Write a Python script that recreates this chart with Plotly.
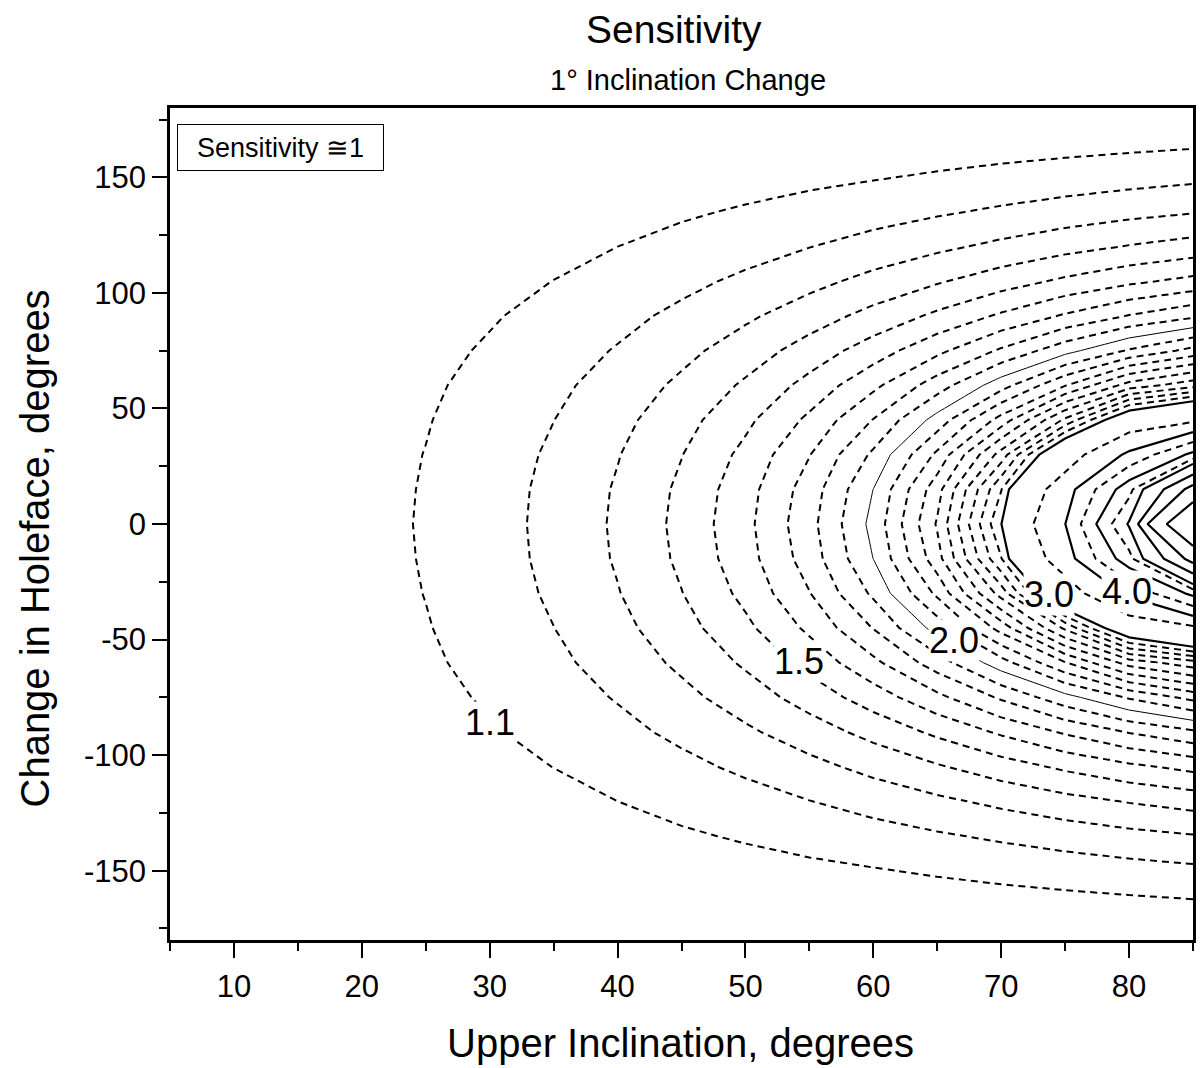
import plotly.graph_objects as go

# ---- data ----
inclination = [5, 10, 15, 20, 25, 30, 35, 40, 45, 50, 55, 60, 65, 70, 75, 80, 85]
holeface_half = [0, 15, 30, 45, 60, 75, 90, 105, 120, 135, 150, 165, 180]

s_h000 = [1.005, 1.017, 1.038, 1.068, 1.108, 1.161, 1.228, 1.315, 1.427, 1.572, 1.766, 2.031, 2.411, 2.996, 3.994, 6.059, 12.75]
s_h015 = [1.005, 1.017, 1.037, 1.067, 1.106, 1.158, 1.225, 1.310, 1.419, 1.560, 1.747, 2.001, 2.360, 2.894, 3.758, 5.318, 8.41]
s_h030 = [1.004, 1.016, 1.036, 1.064, 1.102, 1.151, 1.215, 1.295, 1.397, 1.527, 1.696, 1.919, 2.222, 2.642, 3.243, 4.095, 5.129]
s_h045 = [1.004, 1.015, 1.033, 1.060, 1.095, 1.141, 1.199, 1.271, 1.362, 1.477, 1.621, 1.804, 2.040, 2.341, 2.721, 3.169, 3.400]
s_h060 = [1.004, 1.014, 1.030, 1.054, 1.086, 1.127, 1.178, 1.241, 1.320, 1.415, 1.533, 1.676, 1.851, 2.058, 2.294, 2.542, 2.660]
s_h075 = [1.003, 1.012, 1.026, 1.047, 1.075, 1.110, 1.154, 1.207, 1.272, 1.349, 1.442, 1.550, 1.675, 1.815, 1.965, 2.112, 2.233]
s_h090 = [1.003, 1.010, 1.022, 1.040, 1.063, 1.092, 1.128, 1.171, 1.223, 1.283, 1.353, 1.432, 1.521, 1.616, 1.713, 1.806, 1.882]
s_h105 = [1.002, 1.008, 1.018, 1.032, 1.050, 1.073, 1.101, 1.135, 1.174, 1.220, 1.271, 1.330, 1.390, 1.454, 1.519, 1.579, 1.629]
s_h120 = [1.002, 1.006, 1.013, 1.024, 1.037, 1.056, 1.076, 1.100, 1.129, 1.160, 1.198, 1.238, 1.280, 1.323, 1.366, 1.406, 1.440]
s_h135 = [1.001, 1.004, 1.009, 1.016, 1.025, 1.037, 1.051, 1.068, 1.088, 1.110, 1.134, 1.160, 1.188, 1.216, 1.244, 1.271, 1.294]
s_h150 = [1.001, 1.002, 1.005, 1.009, 1.014, 1.021, 1.030, 1.040, 1.051, 1.064, 1.079, 1.094, 1.111, 1.128, 1.145, 1.162, 1.178]
s_h165 = [1.000, 1.001, 1.002, 1.003, 1.006, 1.008, 1.012, 1.016, 1.021, 1.027, 1.033, 1.041, 1.048, 1.057, 1.065, 1.074, 1.083]
s_h180 = [1.000, 1.000, 1.000, 1.000, 1.000, 1.000, 1.000, 1.000, 1.000, 1.000, 1.000, 1.000, 1.000, 1.000, 1.000, 1.000, 1.000]

dashed_levels = [1.1, 1.2, 1.3, 1.4, 1.5, 1.6, 1.7, 1.8, 1.9,
                 2.1, 2.2, 2.3, 2.4, 2.5, 2.6, 2.7, 2.8, 2.9,
                 3.5, 4.5, 5.5]
thin_levels = [2.0]
solid_levels = [3.0, 4.0, 5.0, 6.0, 7.0, 8.0, 10.0]

label_texts = ["1.1", "1.5", "2.0", "3.0", "4.0"]

x_ticks = [10, 20, 30, 40, 50, 60, 70, 80]
x_minor = [5, 15, 25, 35, 45, 55, 65, 75, 85]
y_ticks = [-150, -100, -50, 0, 50, 100, 150]
y_ticklabels = ["-150", "-100", "-50", "0", "50", "100", "150"]
y_minor = [-175, -125, -75, -25, 25, 75, 125, 175]

# ---- build the (symmetric) surface ----
rows_half = [s_h000, s_h015, s_h030, s_h045, s_h060, s_h075, s_h090,
             s_h105, s_h120, s_h135, s_h150, s_h165, s_h180]
holeface = [-h for h in reversed(holeface_half[1:])] + holeface_half
z = [list(r) for r in reversed(rows_half[1:])] + [list(r) for r in rows_half]

FONT = "Liberation Sans, Arial, sans-serif"

fig = go.Figure()


def add_level(level, width, dash):
    fig.add_trace(go.Contour(
        x=inclination, y=holeface, z=z,
        autocontour=False,
        contours=dict(start=level, end=level, size=1, coloring="none", showlabels=False),
        line=dict(color="black", width=width, dash=dash, smoothing=0),
        showscale=False, hoverinfo="skip", showlegend=False,
    ))


for lv in dashed_levels:
    add_level(lv, 2.0, "7px,5px")
for lv in thin_levels:
    add_level(lv, 1.0, "solid")
for lv in solid_levels:
    add_level(lv, 2.2, "solid")

# contour labels (placed along the lower branch as in the reference)
label_pos = [(30.03, -85.7), (54.2, -59.7), (66.3, -50.2), (73.77, -30.3), (79.85, -29.4)]
for txt, (lx, ly) in zip(label_texts, label_pos):
    fig.add_annotation(x=lx, y=ly, xref="x", yref="y", text=txt, showarrow=False,
                       font=dict(family=FONT, size=36, color="black"),
                       bgcolor="white", borderpad=0, xanchor="center", yanchor="middle")

# legend-like box
fig.add_annotation(x=0.1082, y=0.9531, xref="paper", yref="paper",
                   text="Sensitivity \u22451", showarrow=False,
                   font=dict(family=FONT, size=27, color="black"),
                   bgcolor="white", bordercolor="black", borderwidth=1, borderpad=0,
                   width=205, height=45, xanchor="center", yanchor="middle")

# titles
fig.add_annotation(x=0.4922, y=1.0938, xref="paper", yref="paper", text="Sensitivity",
                   showarrow=False, font=dict(family=FONT, size=39, color="black"),
                   xanchor="center", yanchor="middle")
fig.add_annotation(x=0.5068, y=1.0337, xref="paper", yref="paper", text="1\u00b0 Inclination Change",
                   showarrow=False, font=dict(family=FONT, size=29, color="black"),
                   xanchor="center", yanchor="middle")
fig.add_annotation(x=0.4995, y=-0.1238, xref="paper", yref="paper", text="Upper Inclination, degrees",
                   showarrow=False, font=dict(family=FONT, size=40, color="black"),
                   xanchor="center", yanchor="middle")
fig.add_annotation(x=-0.1316, y=0.471, xref="paper", yref="paper", text="Change in Holeface, degrees",
                   showarrow=False, textangle=-90, font=dict(family=FONT, size=40, color="black"),
                   xanchor="center", yanchor="middle")

axis_common = dict(showgrid=False, zeroline=False, ticks="outside", ticklen=15, tickwidth=2,
                   tickcolor="black", linecolor="black", linewidth=2.5, mirror=True,
                   tickfont=dict(family=FONT, size=31, color="black"))

fig.update_layout(
    width=1200, height=1068,
    margin=dict(l=170, r=4, t=108, b=128),
    paper_bgcolor="white", plot_bgcolor="white",
    showlegend=False,
    xaxis=dict(range=[5, 85], tickmode="array", tickvals=x_ticks, ticklabelstandoff=2,
               minor=dict(tickmode="array", tickvals=x_minor, ticks="outside", ticklen=8,
                          tickwidth=2, tickcolor="black"),
               **axis_common),
    yaxis=dict(range=[-180, 180], tickmode="array", tickvals=y_ticks, ticktext=y_ticklabels,
               ticklabelstandoff=0,
               minor=dict(tickmode="array", tickvals=y_minor, ticks="outside", ticklen=8,
                          tickwidth=2, tickcolor="black"),
               **axis_common),
)

fig.write_html("out.html")
